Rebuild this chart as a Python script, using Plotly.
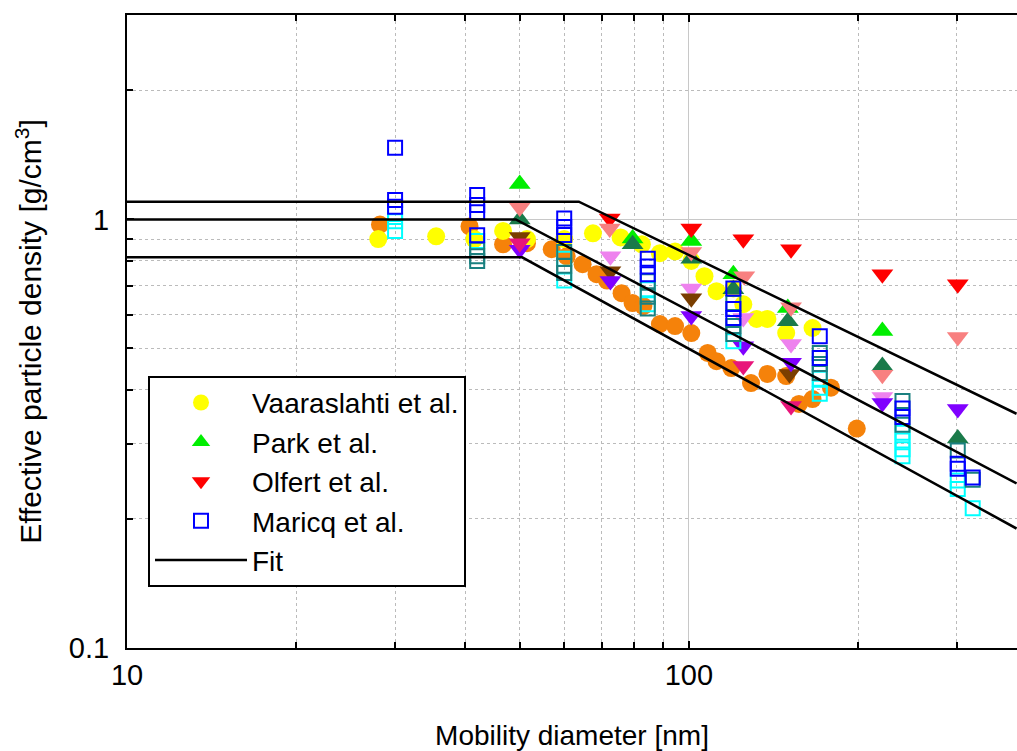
import plotly.graph_objects as go

# ---------------- data ----------------
vaar_x = [28.0, 35.5, 41.5, 46.7, 51.5, 60.0, 67.5, 75.6, 82.5, 88.8, 94.5, 101, 106.6, 112, 120, 125, 132, 138, 149, 166]
vaar_y = [0.90, 0.913, 0.90, 0.94, 0.90, 0.90, 0.928, 0.908, 0.875, 0.834, 0.842, 0.80, 0.737, 0.68, 0.69, 0.634, 0.586, 0.586, 0.543, 0.558]

vaar2_x = [28.2, 40.7, 46.7, 51.5, 57.0, 60.6, 64.7, 68.5, 71.5, 75.9, 79.4, 83.0, 88.8, 94.5, 101, 108, 112, 119, 129, 138, 149, 157, 166, 179, 199]
vaar2_y = [0.973, 0.963, 0.875, 0.88, 0.852, 0.82, 0.786, 0.745, 0.72, 0.673, 0.638, 0.628, 0.57, 0.564, 0.543, 0.488, 0.467, 0.45, 0.415, 0.436, 0.431, 0.371, 0.381, 0.405, 0.325]

park_x = [50, 79.4, 101, 120, 150, 221]
park_y = [1.21, 0.903, 0.89, 0.745, 0.621, 0.549]

park2_x = [50, 79.4, 101, 120, 150, 221, 301]
park2_y = [1.0, 0.875, 0.81, 0.687, 0.579, 0.455, 0.308]

olf_x = [72.3, 101, 125, 152, 221, 301]
olf_y = [1.005, 0.953, 0.899, 0.852, 0.745, 0.706]

olf_salmon_x = [50, 72.3, 101, 125.5, 152, 221, 301]
olf_salmon_y = [1.066, 0.953, 0.84, 0.737, 0.624, 0.434, 0.532]

olf_pink_x = [72.5, 101, 125, 152, 221]
olf_pink_y = [0.82, 0.69, 0.589, 0.512, 0.385]

olf_violet_x = [50, 72.5, 101, 125, 152, 221, 301]
olf_violet_y = [0.85, 0.718, 0.595, 0.506, 0.463, 0.373, 0.361]

olf_brown_x = [50, 72.5, 101, 151]
olf_brown_y = [0.91, 0.757, 0.655, 0.436]

olf_deeppink_x = [50, 125, 152]
olf_deeppink_y = [0.88, 0.455, 0.367]

mar_x = [30, 30, 30, 42, 42, 42, 42, 60, 60, 60, 84.5, 84.5, 84.5, 120, 120, 120, 171, 171, 240, 240, 301, 301, 320]
mar_y = [1.47, 1.11, 1.07, 1.14, 1.08, 1.04, 0.918, 1.005, 0.96, 0.92, 0.81, 0.777, 0.745, 0.69, 0.618, 0.589, 0.534, 0.475, 0.362, 0.346, 0.269, 0.262, 0.25]

mar_teal_x = [42, 42, 42, 60, 60, 60, 84.5, 84.5, 84.5, 120, 120, 120, 171, 171, 171, 240, 240, 301, 320]
mar_teal_y = [0.85, 0.82, 0.80, 0.84, 0.78, 0.75, 0.717, 0.66, 0.62, 0.638, 0.564, 0.54, 0.488, 0.46, 0.438, 0.377, 0.332, 0.289, 0.247]

mar_cyan_x = [30, 30, 30, 42, 60, 60, 84.5, 84.5, 120, 171, 171, 171, 240, 240, 240, 240, 301, 301, 320]
mar_cyan_y = [1.03, 0.99, 0.94, 0.89, 0.81, 0.72, 0.687, 0.634, 0.52, 0.425, 0.405, 0.392, 0.318, 0.305, 0.291, 0.28, 0.246, 0.235, 0.212]

fit_up_x = [10, 63.7, 383]
fit_up_y = [1.10, 1.10, 0.352]
fit_mid_x = [10, 49.2, 383]
fit_mid_y = [1.0, 1.0, 0.242]
fit_low_x = [10, 50.5, 383]
fit_low_y = [0.816, 0.816, 0.19]

x_major = [10, 100]
x_minor = [20, 30, 40, 50, 60, 70, 80, 90, 200, 300]
y_major = [0.1, 1]
y_minor = [0.2, 0.3, 0.4, 0.5, 0.6, 0.7, 0.8, 0.9, 2, 3]

# ---------------- figure ----------------
fig = go.Figure()

def pts(x, y, sym, color, size, name=None, show=False, open_=False):
    if open_:
        marker = dict(symbol=sym, size=size, color=color, line=dict(color=color, width=2))
    else:
        marker = dict(symbol=sym, size=size, color=color, line=dict(width=0))
    fig.add_trace(go.Scatter(x=x, y=y, mode="markers", marker=marker,
                             name=name or "", showlegend=show))

pts(vaar2_x, vaar2_y, "circle", "#F5820A", 18)
pts(vaar_x, vaar_y, "circle", "#FFFF00", 18, "Vaaraslahti et al.", True)
pts(park_x, park_y, "triangle-up", "#00EE00", 19, "Park et al.", True)
pts(park2_x, park2_y, "triangle-up", "#1A7A4A", 19)
pts(olf_x, olf_y, "triangle-down", "#FF0000", 19, "Olfert et al.", True)
pts(olf_salmon_x, olf_salmon_y, "triangle-down", "#F88080", 19)
pts(olf_pink_x, olf_pink_y, "triangle-down", "#EE82EE", 19)
pts(olf_brown_x, olf_brown_y, "triangle-down", "#7A3E00", 19)
pts(olf_violet_x, olf_violet_y, "triangle-down", "#8000FF", 19)
pts(olf_deeppink_x, olf_deeppink_y, "triangle-down", "#E8157A", 19)
pts(mar_cyan_x, mar_cyan_y, "square-open", "#00FFFF", 14, open_=True)
pts(mar_teal_x, mar_teal_y, "square-open", "#1A8080", 14, open_=True)
pts(mar_x, mar_y, "square-open", "#0000FF", 14, "Maricq et al.", True, open_=True)

for fx, fy, show in [(fit_mid_x, fit_mid_y, True), (fit_up_x, fit_up_y, False), (fit_low_x, fit_low_y, False)]:
    fig.add_trace(go.Scatter(x=fx, y=fy, mode="lines", line=dict(color="black", width=2.5),
                             name="Fit", showlegend=show))

fig.update_layout(
    width=1017, height=751,
    margin=dict(l=127, r=0, t=15, b=103),
    paper_bgcolor="white", plot_bgcolor="white",
    font=dict(family="Liberation Sans, Arial, sans-serif", size=28, color="black"),
    legend=dict(x=0.0236, y=0.43, xanchor="left", yanchor="top",
                bordercolor="black", borderwidth=2, bgcolor="white",
                font=dict(size=28), itemwidth=92, traceorder="normal"),
)

fig.update_xaxes(
    type="log", range=[1, 2.584],
    tickmode="array", tickvals=x_major, ticktext=["10", "100"],
    ticks="inside", ticklen=7, tickwidth=2, tickcolor="black",
    showline=True, linecolor="black", linewidth=2, mirror="ticks",
    showgrid=True, gridcolor="#C8C8C8", gridwidth=1,
    minor=dict(tickmode="array", tickvals=x_minor, ticks="inside", ticklen=6,
               tickwidth=1.5, tickcolor="black", showgrid=True,
               gridcolor="#BBBBBB", griddash="dot", gridwidth=1),
    zeroline=False,
    title=dict(text="Mobility diameter [nm]", font=dict(size=28), standoff=36),
    tickfont=dict(size=29),
)
fig.update_yaxes(
    type="log", range=[-1, 0.477],
    tickmode="array", tickvals=y_major, ticktext=["0.1", "1"],
    ticks="inside", ticklen=7, tickwidth=2, tickcolor="black",
    showline=True, linecolor="black", linewidth=2, mirror=False,
    showgrid=True, gridcolor="#C8C8C8", gridwidth=1,
    minor=dict(tickmode="array", tickvals=y_minor, ticks="inside", ticklen=6,
               tickwidth=1.5, tickcolor="black", showgrid=True,
               gridcolor="#BBBBBB", griddash="dot", gridwidth=1),
    zeroline=False, ticklabelstandoff=10,
    title=dict(text="Effective particle density [g/cm<sup>3</sup>]", font=dict(size=30), standoff=18),
    tickfont=dict(size=29),
)

fig.write_html("out.html")
